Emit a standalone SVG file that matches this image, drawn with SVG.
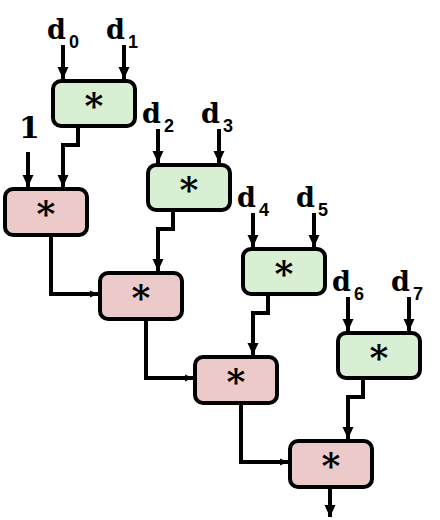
<svg xmlns="http://www.w3.org/2000/svg" width="440" height="520" viewBox="0 0 440 520">
<style>
.g{fill:#d9efd4;stroke:#000;stroke-width:4}
.p{fill:#eccaca;stroke:#000;stroke-width:4}
.st{font-family:"DejaVu Serif",serif;font-weight:bold;font-size:36px;text-anchor:middle}
.lb{font-family:"DejaVu Serif",serif;font-weight:bold;font-size:27px}
.sb{font-family:"Liberation Sans",Arial,sans-serif;font-weight:bold;font-size:18px}
.c{fill:none;stroke:#000;stroke-width:4}
.v{marker-end:url(#av)}
.h{marker-end:url(#ah)}
</style>
<defs>
<marker id="av" markerUnits="userSpaceOnUse" markerWidth="12" markerHeight="12" viewBox="0 0 12 12" refX="12" refY="6" orient="auto"><path d="M0,0.5 L12,6 L0,11.5 Z" fill="#000"/></marker>
<marker id="ah" markerUnits="userSpaceOnUse" markerWidth="8" markerHeight="8" viewBox="0 0 8 8" refX="8" refY="4" orient="auto"><path d="M0,0.5 L8,4 L0,7.5 Z" fill="#000"/></marker>
</defs>
<g id="connectors">
<path class="c v" d="M63,45 V79"/>
<path class="c v" d="M124,45 V79"/>
<path class="c v" d="M158,129 V163"/>
<path class="c v" d="M219,129 V163"/>
<path class="c v" d="M253,213 V247"/>
<path class="c v" d="M314,213 V247"/>
<path class="c v" d="M348,297 V331"/>
<path class="c v" d="M409,297 V331"/>
<path class="c v" d="M28,152 V187"/>
<path class="c v" d="M78,128 V145 H63 V187"/>
<path class="c v" d="M173,212 V229 H158 V271"/>
<path class="c v" d="M268,296 V313 H253 V355"/>
<path class="c v" d="M363,380 V397 H348 V439"/>
<path class="c h" d="M51,237 V294 H98"/>
<path class="c h" d="M146,321 V378 H193"/>
<path class="c h" d="M241,405 V462 H288"/>
<path class="c v" d="M330,489 V517"/>
</g>
<g id="g0"><rect class="g" x="53" y="81" width="82" height="45" rx="8"/><text class="st" x="94" y="118">*</text></g>
<g id="g1"><rect class="g" x="148" y="165" width="82" height="45" rx="8"/><text class="st" x="189" y="202">*</text></g>
<g id="g2"><rect class="g" x="243" y="249" width="82" height="45" rx="8"/><text class="st" x="284" y="286">*</text></g>
<g id="g3"><rect class="g" x="338" y="333" width="82" height="45" rx="8"/><text class="st" x="379" y="370">*</text></g>
<g id="p0"><rect class="p" x="5" y="189" width="82" height="46" rx="8"/><text class="st" x="46" y="226">*</text></g>
<g id="p1"><rect class="p" x="100" y="273" width="82" height="46" rx="8"/><text class="st" x="141" y="310">*</text></g>
<g id="p2"><rect class="p" x="195" y="357" width="82" height="46" rx="8"/><text class="st" x="236" y="394">*</text></g>
<g id="p3"><rect class="p" x="290" y="441" width="82" height="46" rx="8"/><text class="st" x="331" y="478">*</text></g>
<g id="labels">
<text class="lb" x="47" y="39">d</text><text class="sb" x="69" y="48">0</text>
<text class="lb" x="106" y="39">d</text><text class="sb" x="128" y="48">1</text>
<text class="lb" x="142" y="123">d</text><text class="sb" x="164" y="132">2</text>
<text class="lb" x="201" y="123">d</text><text class="sb" x="223" y="132">3</text>
<text class="lb" x="237" y="207">d</text><text class="sb" x="259" y="216">4</text>
<text class="lb" x="296" y="207">d</text><text class="sb" x="318" y="216">5</text>
<text class="lb" x="332" y="291">d</text><text class="sb" x="354" y="300">6</text>
<text class="lb" x="391" y="291">d</text><text class="sb" x="413" y="300">7</text>
<text class="lb" x="19" y="138" style="font-size:30px">1</text>
</g>
</svg>
